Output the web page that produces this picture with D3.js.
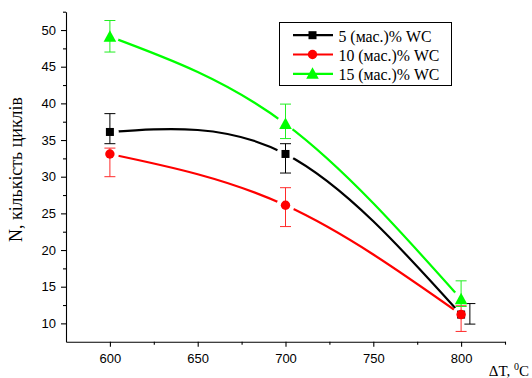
<!DOCTYPE html>
<html><head><meta charset="utf-8">
<script src="https://cdn.jsdelivr.net/npm/d3@7"></script>
<style>body{margin:0;background:#fff}svg{display:block}</style>
</head><body><svg id="c" width="532" height="378"></svg>
<script>
// ---- data ----
const temps = [600, 700, 800];
const seriesNames = ["5 (мас.)% WC", "10 (мас.)% WC", "15 (мас.)% WC"];
const wc5 = [36.1, 33.1, 11.2];
const wc10 = [33.1, 26.1, 11.2];
const wc15 = [49.1, 37.2, 13.3];
const wc5ErrUp = [2.5, 1.4, 1.5];
const wc5ErrDown = [1.6, 2.6, 1.3];
const wc10ErrUp = [0.8, 2.4, 1.2];
const wc10ErrDown = [3.1, 2.9, 2.3];
const wc15ErrUp = [2.2, 2.7, 2.5];
const wc15ErrDown = [2.1, 2.0, 1.0];
const wc5ErrX = [600, 700, 805];
const xTicks = [600, 650, 700, 750, 800];
const xMinorTicks = [625, 675, 725, 775, 825];
const yTicks = [10, 15, 20, 25, 30, 35, 40, 45, 50];
const yMinorTicks = [12.5, 17.5, 22.5, 27.5, 32.5, 37.5, 42.5, 47.5, 52.5];
const xTitle = "ΔT, ";
const xTitleSup = "0";
const xTitleEnd = "C";
const yTitle = "N, кількість циклів";

const series = [
  {name: seriesNames[0], vals: wc5, up: wc5ErrUp, down: wc5ErrDown, ex: wc5ErrX, color: "#000000", ecolor: "#000000", sym: "square"},
  {name: seriesNames[1], vals: wc10, up: wc10ErrUp, down: wc10ErrDown, ex: temps, color: "#ff0000", ecolor: "#ff2a2a", sym: "circle"},
  {name: seriesNames[2], vals: wc15, up: wc15ErrUp, down: wc15ErrDown, ex: temps, color: "#00ff00", ecolor: "#22ee22", sym: "triangle"}
];

const svg = d3.select("#c");
const x = d3.scaleLinear().domain([575, 825]).range([66, 505]);
const y = d3.scaleLinear().domain([7.5, 52.5]).range([341.7, 11.7]);

const sans = "'Liberation Sans', Arial, sans-serif";
const serif = "'Liberation Serif', 'Times New Roman', serif";

// axes
const gx = svg.append("g").attr("transform", `translate(0,${y(7.5)})`)
  .call(d3.axisBottom(x).tickValues(xTicks).tickSize(5).tickSizeOuter(0).tickPadding(7).tickFormat(d3.format("d")));
const gxm = svg.append("g").attr("transform", `translate(0,${y(7.5)})`)
  .call(d3.axisBottom(x).tickValues(xMinorTicks).tickSize(3).tickSizeOuter(0).tickFormat(""));
gxm.select(".domain").remove();
const gy = svg.append("g").attr("transform", `translate(${x(575)},0)`)
  .call(d3.axisLeft(y).tickValues(yTicks).tickSize(5).tickSizeOuter(0).tickPadding(5).tickFormat(d3.format("d")));
const gym = svg.append("g").attr("transform", `translate(${x(575)},0)`)
  .call(d3.axisLeft(y).tickValues(yMinorTicks).tickSize(3).tickSizeOuter(0).tickFormat(""));
gym.select(".domain").remove();
svg.selectAll(".domain, .tick line").attr("stroke", "#000").attr("stroke-width", 1.1);
svg.selectAll(".tick text").attr("font-family", sans).attr("font-size", 13).attr("fill", "#000");

// mask for gaps around markers
const defs = svg.append("defs");
series.forEach((s, i) => {
  const m = defs.append("mask").attr("id", "m" + i).attr("maskUnits", "userSpaceOnUse")
    .attr("x", 0).attr("y", 0).attr("width", 532).attr("height", 378);
  m.append("rect").attr("width", 532).attr("height", 378).attr("fill", "#fff");
  temps.forEach((t, j) => m.append("circle").attr("cx", x(t)).attr("cy", y(s.vals[j])).attr("r", 9).attr("fill", "#000"));
});

const line = d3.line().x(d => x(d[0])).y(d => y(d[1])).curve(d3.curveNatural);

function symbol(g, type, cx, cy, color) {
  if (type === "square") {
    g.append("rect").attr("x", cx - 4).attr("y", cy - 4).attr("width", 8).attr("height", 8).attr("fill", color);
  } else if (type === "circle") {
    g.append("circle").attr("cx", cx).attr("cy", cy).attr("r", 4.7).attr("fill", color);
  } else {
    g.append("path").attr("d", `M${cx},${cy - 6.5}L${cx + 6.3},${cy + 5}L${cx - 6.3},${cy + 5}Z`).attr("fill", color);
  }
}

series.forEach((s, i) => {
  const g = svg.append("g");
  g.append("path").attr("d", line(temps.map((t, j) => [t, s.vals[j]])))
    .attr("fill", "none").attr("stroke", s.color).attr("stroke-width", 2.2).attr("mask", `url(#m${i})`);
  temps.forEach((t, j) => {
    const ex = x(s.ex[j]);
    const y1 = y(s.vals[j] + s.up[j]), y2 = y(s.vals[j] - s.down[j]);
    g.append("line").attr("x1", ex).attr("x2", ex).attr("y1", y1).attr("y2", y2).attr("stroke", s.ecolor).attr("stroke-width", 1);
    [y1, y2].forEach(yy => g.append("line").attr("x1", ex - 5.5).attr("x2", ex + 5.5).attr("y1", yy).attr("y2", yy).attr("stroke", s.ecolor).attr("stroke-width", 1));
  });
  temps.forEach((t, j) => symbol(g, s.sym, x(t), y(s.vals[j]), s.color));
});

// fit a text element's font size to a target width
function fitText(sel, base, target) {
  const len = sel.node().getComputedTextLength();
  if (len > 0) sel.attr("font-size", base * target / len);
  return sel.attr("font-size");
}

// legend
const lg = svg.append("g");
lg.append("rect").attr("x", 279.5).attr("y", 22.5).attr("width", 172).attr("height", 63)
  .attr("fill", "#fff").attr("stroke", "#000").attr("stroke-width", 1);
let legendFont = null;
series.forEach((s, i) => {
  const cy = 35.2 + i * 19.3;
  lg.append("line").attr("x1", 293).attr("x2", 333).attr("y1", cy).attr("y2", cy).attr("stroke", s.color).attr("stroke-width", 2.2);
  symbol(lg, s.sym, 312.5, cy, s.color);
  const t = lg.append("text").attr("x", 338.5).attr("y", cy + 6.3).attr("font-family", serif).attr("font-size", 15).attr("fill", "#000").text(s.name);
  if (i === 0) legendFont = fitText(t, 15, 93);
  else t.attr("font-size", legendFont);
});

// axis titles
const yt = svg.append("text").attr("transform", "translate(22,169.5) rotate(-90)").attr("text-anchor", "middle")
  .attr("font-family", serif).attr("font-size", 15).attr("fill", "#000").text(yTitle);
fitText(yt, 15, 145);
const xt = svg.append("text").attr("x", 529).attr("y", 376).attr("text-anchor", "end")
  .attr("font-family", serif).attr("font-size", 15).attr("fill", "#000");
xt.append("tspan").text(xTitle);
xt.append("tspan").attr("font-size", 10).attr("dy", -6).text(xTitleSup);
xt.append("tspan").attr("dy", 6).text(xTitleEnd);
</script></body></html>
